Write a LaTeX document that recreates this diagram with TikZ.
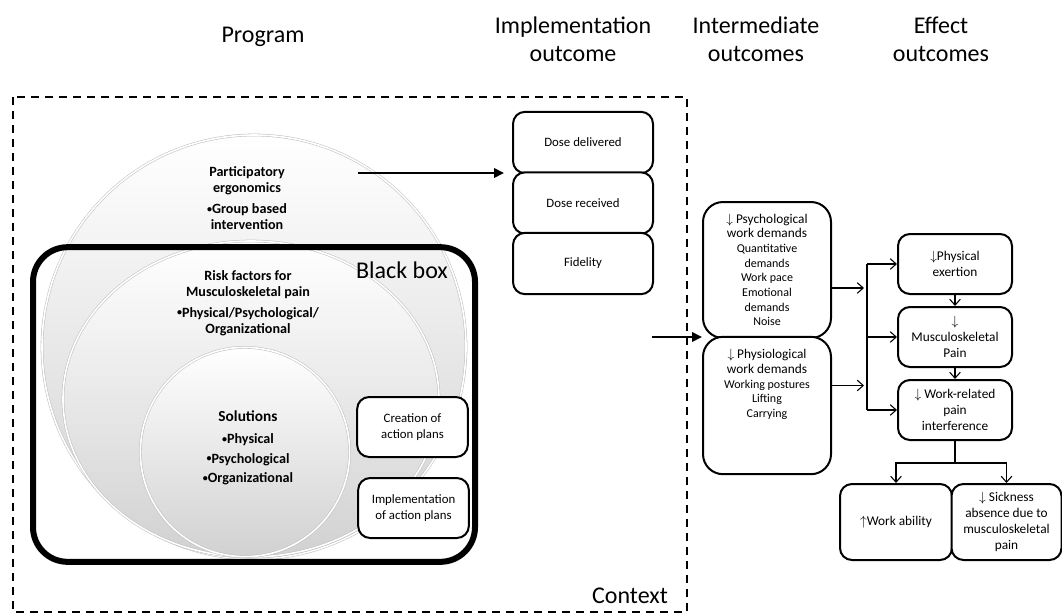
\documentclass[tikz,border=0pt]{standalone}
\usepackage{fontspec}
\setmainfont{Carlito}
\usetikzlibrary{arrows.meta, positioning, shapes.geometric}
\newcommand{\hd}{\fontsize{10}{11.3}\selectfont}
\newcommand{\bul}{\raisebox{1.1pt}{\fontsize{7.5}{7.5}\selectfont\textbullet}}

\begin{document}
\begin{tikzpicture}[x=0.75pt, y=-0.75pt,
	title/.style={align=center, font=\fontsize{18}{21}\selectfont},
	bigtxt/.style={font=\fontsize{18}{20}\selectfont},
	bubble/.style={draw=black!25, line width=0.4pt, double=white, double distance=1.2pt, top color=white, bottom color=black!18, inner sep=0pt},
	circtxt/.style={align=center, font=\fontsize{10.6}{12}\selectfont\bfseries},
	box/.style={draw, line width=1.5pt, fill=white, align=center},
	impl/.style={box, rounded corners=9pt, minimum width=105pt, minimum height=46pt, font=\fontsize{9.6}{10}\selectfont},
	plan/.style={box, rounded corners=9pt, minimum width=83pt, minimum height=45pt, font=\fontsize{9.6}{12}\selectfont},
	inter/.style={box, rounded corners=15pt, minimum width=96pt, inner sep=2pt, font=\fontsize{9}{11}\selectfont},
	effect/.style={box, rounded corners=9pt, minimum width=85.5pt, minimum height=45pt, font=\fontsize{10}{12}\selectfont, inner sep=2pt},
	bigarrow/.style={line width=2.2pt, -{Triangle[length=7.5pt, width=7pt]}},
	barb/.style={line width=0.8pt, -{Straight Barb[length=4.5pt, width=8pt]}},
	node distance=0pt]
	\useasboundingbox (0,0) rectangle (1062,614);
	% column titles
	\node[title] (prog) at (263,37) {Program};
	\node[title] (implt) at (573,39) {Implementation\\outcome};
	\node[title] (intt) at (756,39) {Intermediate\\outcomes};
	\node[title] (efft) at (941,39) {Effect\\outcomes};
	% stacked program circles
	\node[bubble, circle, minimum size=318pt] (pe) at (254,347) {};
	\node[bubble, ellipse, minimum width=282pt, minimum height=237pt] (rf) at (251,399) {};
	\node[bubble, circle, minimum size=157pt] (sol) at (245,452) {};
	\node[circtxt] (pet) at (247,198) {Participatory\\ergonomics\\[4pt]\bul Group based\\intervention};
	\node[circtxt] (rft) at (248,303) {Risk factors for\\Musculoskeletal pain\\[4pt]\bul Physical/Psychological/\\Organizational};
	\node[circtxt, font=\fontsize{10.6}{14.5}\selectfont\bfseries] (solt) at (248,448) {{\fontsize{11.5}{14}\selectfont Solutions}\\[2pt]\bul Physical\\\bul Psychological\\\bul Organizational};
	% black box
	\node[draw, line width=4.5pt, rounded corners=26pt, minimum width=331.5pt, minimum height=236pt] (bb) at (254,404.5) {};
	\node[bigtxt] (bbl) at (402,270) {Black box};
	\node[plan] (cre) at (412.5,427) {Creation of\\action plans};
	\node[plan] (imp) at (413.5,508) {Implementation\\of action plans};
	% context
	\draw[line width=1.5pt, dash pattern=on 6pt off 4.5pt] (13,97) rectangle (687,612);
	\node[bigtxt] (ctx) at (630,596) {Context};
	% implementation outcome
	\node[impl] (dd) at (583,142.5) {Dose delivered};
	\node[impl] (dr) at (583,203) {Dose received};
	\node[impl] (fid) at (583,263.5) {Fidelity};
	\coordinate (pa) at (358,173);
	\draw[bigarrow] (pa) -- ([xshift=-6pt]pa -| dd.west);
	% intermediate outcomes
	\node[inter, minimum height=102pt] (psy) at (767,270) {{\hd$\downarrow$ Psychological}\\{\hd work demands}\\Quantitative\\demands\\Work pace\\Emotional\\demands\\Noise};
	\node[inter, minimum height=103pt] (phy) at (767,405.5) {{\hd$\downarrow$ Physiological}\\{\hd work demands}\\Working postures\\Lifting\\Carrying\\[22pt]};
	\coordinate (ia) at (652,337);
	\draw[bigarrow] (ia) -- (ia -| psy.west);
	% effect outcomes
	\node[effect] (ex) at (955,264) {$\downarrow$Physical\\exertion};
	\node[effect, below=8.25pt of ex] (msp) {$\downarrow$\\Musculoskeletal\\Pain};
	\node[effect, below=8.25pt of msp] (wr) {$\downarrow$ Work-related\\pain\\interference};
	\node[effect, minimum width=84pt, minimum height=57pt] (wa) at (896,522) {$\uparrow$Work ability};
	\node[effect, minimum width=82.5pt, minimum height=57pt] (sa) at (1006.5,522) {$\downarrow$ Sickness\\absence due to\\musculoskeletal\\pain};
	\coordinate (bus) at (867,0);
	\draw[barb] ([yshift=-13.5pt]psy.east) -- ++(24pt,0);
	\draw[barb] ([yshift=15pt]phy.east) -- ++(24pt,0);
	\draw[line width=0.8pt] (ex.west -| bus) -- (wr.west -| bus);
	\draw[barb] (ex.west -| bus) -- (ex.west);
	\draw[barb] (msp.west -| bus) -- (msp.west);
	\draw[barb] (wr.west -| bus) -- (wr.west);
	\draw[barb] (ex) -- (msp);
	\draw[barb] (msp) -- (wr);
	\draw[barb] (wr.south) -- ++(0,-16.5pt) -| (wa.north);
	\draw[barb] (wr.south) -- ++(0,-16.5pt) -| (sa.north);
\end{tikzpicture}
\end{document}
